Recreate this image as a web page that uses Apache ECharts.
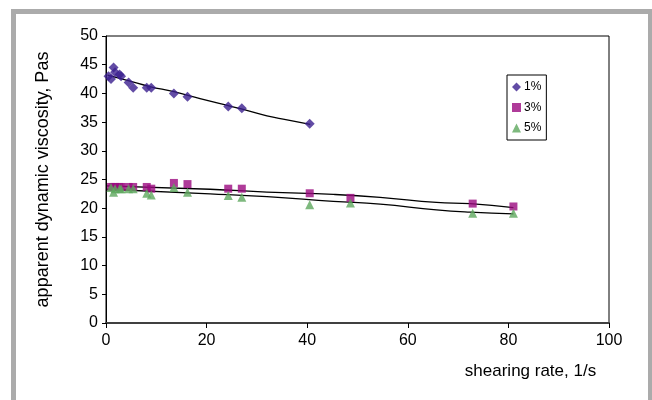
<!DOCTYPE html>
<html>
<head>
<meta charset="utf-8">
<script src="https://cdn.jsdelivr.net/npm/echarts@6/dist/echarts.min.js"></script>
<style>html,body{margin:0;padding:0;background:#fff;}#c{width:652px;height:400px;}</style>
</head>
<body>
<div id="c"></div>
<script>
// tick labels
var xTicks = [0, 20, 40, 60, 80, 100];
var yTicks = [0, 5, 10, 15, 20, 25, 30, 35, 40, 45, 50];
var seriesNames = ['1%', '3%', '5%'];

// 1 % data
var shear1 = [0.5, 1.0, 1.5, 1.8, 2.7, 3.0, 4.5, 5.4, 8.1, 9.0, 13.5, 16.2, 24.3, 27.0, 40.5];
var visc1  = [43.0, 42.5, 44.5, 43.7, 43.3, 43.0, 41.9, 41.0, 41.0, 41.0, 40.0, 39.4, 37.7, 37.4, 34.7];
// 3 % data
var shear3 = [1.0, 1.5, 1.8, 2.7, 3.0, 4.5, 5.4, 8.1, 9.0, 13.5, 16.2, 24.3, 27.0, 40.5, 48.6, 72.9, 81.0];
var visc3  = [23.7, 23.7, 23.7, 23.7, 23.7, 23.7, 23.7, 23.7, 23.4, 24.4, 24.2, 23.4, 23.4, 22.6, 21.8, 20.8, 20.3];
// 5 % data
var shear5 = [1.0, 1.5, 1.8, 2.7, 3.0, 4.5, 5.4, 8.1, 9.0, 13.5, 16.2, 24.3, 27.0, 40.5, 48.6, 72.9, 81.0];
var visc5  = [23.6, 22.8, 23.4, 23.4, 23.4, 23.4, 23.4, 22.6, 22.3, 23.6, 22.8, 22.2, 21.9, 20.6, 20.9, 19.1, 19.1];

// trend lines
var trend1X = [0.3, 4.6, 8.7, 13.5, 18.7, 22.7, 27.3, 32, 36, 40.6];
var trend1Y = [43.2, 42.2, 41.2, 40.3, 39.1, 38.2, 37.2, 36.1, 35.4, 34.6];
var trend3X = [0, 20.7, 32, 45.2, 54.5, 65.7, 72.4, 81];
var trend3Y = [23.9, 23.3, 22.8, 22.4, 21.9, 21.0, 20.8, 20.1];
var trend5X = [0, 20.7, 32, 45.2, 54.5, 65.7, 72.4, 81];
var trend5Y = [23.3, 22.5, 22.0, 21.2, 20.7, 19.7, 19.3, 19.0];

function zip(a, b) { return a.map(function (v, i) { return [v, b[i]]; }); }

var FONT = '"Liberation Sans", Arial, sans-serif';
var chart = echarts.init(document.getElementById('c'), null, {renderer: 'canvas'});

function trendSeries(xs, ys) {
  return {
    type: 'line', data: zip(xs, ys), showSymbol: false, symbol: 'none',
    smooth: true, lineStyle: {color: '#000', width: 1.3}, silent: true, z: 1,
    legendHoverLink: false
  };
}

chart.setOption({
  animation: false,
  backgroundColor: '#fff',
  graphic: [{
    type: 'rect', silent: true, z: -10,
    shape: {x: 13.5, y: 11.5, width: 637, height: 420},
    style: {fill: '#fff', stroke: '#ababab', lineWidth: 5}
  }],
  grid: {left: 106, top: 36, right: 43, bottom: 77, show: true, borderColor: '#000', borderWidth: 1, backgroundColor: 'transparent'},
  legend: {
    data: seriesNames, orient: 'vertical', left: 507, top: 75,
    borderColor: '#000', borderWidth: 1, padding: [5, 5, 5, 5],
    itemWidth: 9, itemHeight: 9, itemGap: 6.5,
    textStyle: {fontFamily: FONT, fontSize: 12, color: '#000', lineHeight: 14, padding: [0, 0, 0, -2]}
  },
  xAxis: {
    type: 'value', min: 0, max: 100, interval: 20,
    name: 'shearing rate, 1/s', nameLocation: 'middle', nameGap: 40,
    nameTextStyle: {fontFamily: FONT, fontSize: 17, color: '#000', padding: [0, 0, 0, 346]},
    axisLine: {show: true, lineStyle: {color: '#404040', width: 2}},
    axisTick: {show: true, inside: false, length: 5, lineStyle: {color: '#000'}},
    axisLabel: {fontFamily: FONT, fontSize: 16, color: '#000', margin: 10},
    splitLine: {show: false}
  },
  yAxis: {
    type: 'value', min: 0, max: 50, interval: 5,
    name: 'apparent dynamic viscosity, Pas', nameLocation: 'middle', nameGap: 54, nameRotate: 90,
    nameTextStyle: {fontFamily: FONT, fontSize: 18, color: '#000'},
    axisLine: {show: true, lineStyle: {color: '#000', width: 1}},
    axisTick: {show: true, inside: false, length: 4, lineStyle: {color: '#000'}},
    axisLabel: {fontFamily: FONT, fontSize: 16, color: '#000', margin: 8,
      formatter: function (v) { return yTicks.indexOf(v) >= 0 ? String(v) : ''; }},
    splitLine: {show: false}
  },
  series: [
    trendSeries(trend1X, trend1Y),
    trendSeries(trend3X, trend3Y),
    trendSeries(trend5X, trend5Y),
    {name: seriesNames[0], type: 'scatter', data: zip(shear1, visc1), symbol: 'diamond', symbolSize: 10,
      itemStyle: {color: '#3b1f8e'}, z: 3},
    {name: seriesNames[1], type: 'scatter', data: zip(shear3, visc3), symbol: 'rect', symbolSize: 8,
      itemStyle: {color: '#9b0a7f'}, z: 3},
    {name: seriesNames[2], type: 'scatter', data: zip(shear5, visc5), symbol: 'triangle', symbolSize: 9,
      itemStyle: {color: '#5ea85e'}, z: 4}
  ]
});
</script>
</body>
</html>
